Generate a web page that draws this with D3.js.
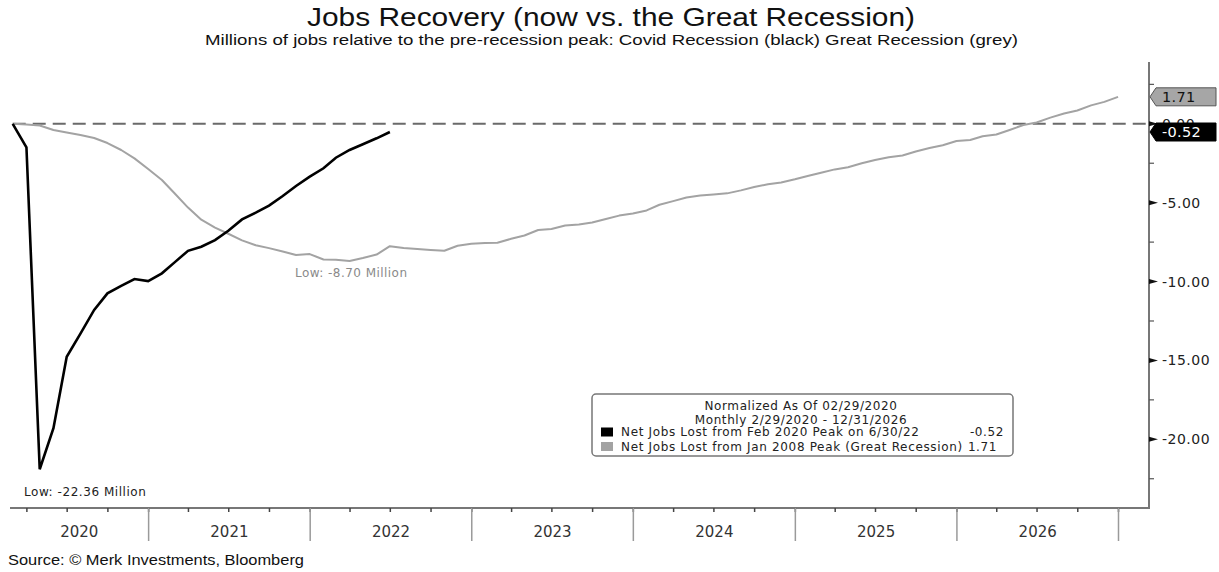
<!DOCTYPE html>
<html lang="en">
<head>
  <meta charset="UTF-8">
  <title>Jobs Recovery (now vs. the Great Recession)</title>
  <script src="https://d3js.org/d3.v7.min.js"></script>
  <style>
    html, body { margin: 0; padding: 0; background: #fff; }
    svg { display: block; }
    .title { font-family: "Liberation Sans", Arial, sans-serif; fill: #111; }
    .mono { font-family: "DejaVu Sans", Verdana, sans-serif; }
  </style>
</head>
<body>
  <div id="chart"></div>

  <script>
    // data: millions of jobs vs. pre-recession peak, monthly (month ends from 2/29/2020)
    const covidJobs = [0, -1.49, -21.9, -19.3, -14.77, -13.3, -11.8, -10.75, -10.27, -9.84,
      -9.97, -9.48, -8.8, -8.05, -7.79, -7.37, -6.78, -6.06, -5.63, -5.19,
      -4.58, -3.94, -3.35, -2.82, -2.15, -1.66, -1.30, -0.92, -0.52];

    const greatRecessionJobs = [0, -0.05, -0.11, -0.39, -0.55, -0.71, -0.90, -1.22, -1.66, -2.19,
      -2.87, -3.56, -4.39, -5.31, -6.08, -6.58, -6.97, -7.39, -7.70, -7.88,
      -8.10, -8.32, -8.26, -8.60, -8.62, -8.70, -8.51, -8.29, -7.76, -7.88,
      -7.94, -8.00, -8.05, -7.73, -7.61, -7.56, -7.54, -7.29, -7.08, -6.73,
      -6.67, -6.45, -6.38, -6.26, -6.04, -5.82, -5.69, -5.49, -5.13, -4.90,
      -4.67, -4.55, -4.48, -4.41, -4.22, -4.01, -3.83, -3.72, -3.52, -3.29,
      -3.10, -2.89, -2.75, -2.50, -2.30, -2.12, -2.01, -1.76, -1.54, -1.36,
      -1.09, -1.03, -0.79, -0.68, -0.39, -0.08, 0.08, 0.39, 0.65, 0.84,
      1.17, 1.39, 1.71];

    const yearLabels = ["2020", "2021", "2022", "2023", "2024", "2025", "2026"];
    const yMajorTicks = [0, -5, -10, -15, -20];
    const yMinorTicks = [2.5, -2.5, -7.5, -12.5, -17.5, -22.5];
    const legendLines = ["Normalized As Of 02/29/2020", "Monthly 2/29/2020 - 12/31/2026"];
    const legendSeries = [
      { name: "Net Jobs Lost from Feb 2020 Peak on 6/30/22", value: "-0.52", color: "#000" },
      { name: "Net Jobs Lost from Jan 2008 Peak (Great Recession)", value: "1.71", color: "#a3a3a3" }
    ];

    // month-end dates starting Feb 2020
    const monthEnd = i => d3.timeDay.offset(d3.timeMonth.offset(new Date(2020, 2, 1), i), -1);

    const width = 1219, height = 572;
    const axisX = 1149, axisTop = 62, axisBottom = 508, plotLeft = 10;

    const svg = d3.select("#chart").append("svg")
      .attr("width", width)
      .attr("height", height);

    const x = d3.scaleTime()
      .domain([new Date(2020, 0, 1), new Date(2027, 0, 1)])
      .range([-13.4, 1118.5]);

    const y = d3.scaleLinear()
      .domain([-20, 0])
      .range([439.3, 123.8]);

    // titles (the original is a little wider than the font, so stretch to fit)
    svg.append("text").attr("class", "title")
      .attr("x", 307).attr("y", 26)
      .attr("font-size", 26)
      .attr("textLength", 608)
      .attr("lengthAdjust", "spacingAndGlyphs")
      .text("Jobs Recovery (now vs. the Great Recession)");

    svg.append("text").attr("class", "title")
      .attr("x", 205).attr("y", 45)
      .attr("font-size", 15.5)
      .attr("textLength", 813)
      .attr("lengthAdjust", "spacingAndGlyphs")
      .text("Millions of jobs relative to the pre-recession peak: Covid Recession (black) Great Recession (grey)");

    // zero line
    svg.append("line")
      .attr("x1", x(monthEnd(0))).attr("x2", axisX)
      .attr("y1", y(0)).attr("y2", y(0))
      .attr("stroke", "#6a6a6a")
      .attr("stroke-width", 2)
      .attr("stroke-dasharray", "13,7");

    // lines
    const line = d3.line()
      .x((d, i) => x(monthEnd(i)))
      .y(d => y(d));

    svg.append("path")
      .attr("fill", "none")
      .attr("stroke", "#a3a3a3")
      .attr("stroke-width", 2)
      .attr("stroke-linejoin", "round")
      .attr("d", line(greatRecessionJobs));

    svg.append("path")
      .attr("fill", "none")
      .attr("stroke", "#000")
      .attr("stroke-width", 2.6)
      .attr("stroke-linejoin", "miter")
      .attr("d", line(covidJobs));

    // low annotations
    svg.append("text").attr("class", "mono")
      .attr("x", 24).attr("y", 496)
      .attr("font-size", 12).attr("letter-spacing", 0.55)
      .attr("fill", "#222")
      .text("Low: -22.36 Million");

    svg.append("text").attr("class", "mono")
      .attr("x", 295).attr("y", 277)
      .attr("font-size", 12).attr("letter-spacing", 0.45)
      .attr("fill", "#8a8a8a")
      .text("Low: -8.70 Million");

    // x axis
    const xAxis = svg.append("g");
    xAxis.append("line")
      .attr("x1", plotLeft).attr("x2", axisX)
      .attr("y1", axisBottom).attr("y2", axisBottom)
      .attr("stroke", "#777").attr("stroke-width", 2);

    const quarters = d3.timeMonth.every(3).range(new Date(2020, 3, 1), new Date(2027, 0, 2));
    xAxis.selectAll(".qtick")
      .data(quarters)
      .enter().append("line")
      .attr("x1", d => x(d)).attr("x2", d => x(d))
      .attr("y1", axisBottom).attr("y2", axisBottom + 4)
      .attr("stroke", "#444").attr("stroke-width", 1.5);

    const yearStarts = d3.timeYear.range(new Date(2021, 0, 1), new Date(2027, 0, 2));
    xAxis.selectAll(".ydiv")
      .data(yearStarts)
      .enter().append("line")
      .attr("x1", d => x(d)).attr("x2", d => x(d))
      .attr("y1", axisBottom).attr("y2", 541)
      .attr("stroke", "#9a9a9a").attr("stroke-width", 1.5);

    xAxis.selectAll(".ylab")
      .data(yearLabels)
      .enter().append("text")
      .attr("class", "mono")
      .attr("x", d => {
        const a = Math.max(plotLeft, x(new Date(+d, 0, 1)));
        const b = x(new Date(+d + 1, 0, 1));
        return (a + b) / 2;
      })
      .attr("y", 537)
      .attr("text-anchor", "middle")
      .attr("font-size", 15)
      .attr("fill", "#333")
      .text(d => d);

    // y axis
    const yAxis = svg.append("g");
    yAxis.append("line")
      .attr("x1", axisX).attr("x2", axisX)
      .attr("y1", axisTop).attr("y2", axisBottom + 1)
      .attr("stroke", "#777").attr("stroke-width", 2);

    yAxis.selectAll(".minor")
      .data(yMinorTicks)
      .enter().append("line")
      .attr("x1", axisX).attr("x2", axisX + 5)
      .attr("y1", d => y(d)).attr("y2", d => y(d))
      .attr("stroke", "#555").attr("stroke-width", 1.2);

    yAxis.selectAll(".major")
      .data(yMajorTicks)
      .enter().append("path")
      .attr("d", d => `M${axisX},${y(d) - 2.5}L${axisX + 9},${y(d)}L${axisX},${y(d) + 2.5}Z`)
      .attr("fill", "#111");

    yAxis.selectAll(".ylabel")
      .data(yMajorTicks)
      .enter().append("text")
      .attr("class", "mono")
      .attr("x", axisX + 13)
      .attr("y", d => y(d))
      .attr("dy", "0.36em")
      .attr("font-size", 14)
      .attr("letter-spacing", 0.5)
      .attr("fill", "#222")
      .text(d => d.toFixed(2));

    // last-value badges
    const badges = [
      { value: greatRecessionJobs[greatRecessionJobs.length - 1], fill: "#a6a6a6", text: "#111", stroke: "#555" },
      { value: covidJobs[covidJobs.length - 1], fill: "#000", text: "#fff", stroke: "#000" }
    ];
    badges.forEach(b => {
      const cy = y(b.value);
      svg.append("path")
        .attr("d", `M${axisX + 1},${cy}L${axisX + 7},${cy - 9}L1216,${cy - 9}L1216,${cy + 9}L${axisX + 7},${cy + 9}Z`)
        .attr("fill", b.fill)
        .attr("stroke", b.stroke)
        .attr("stroke-width", 1);
      svg.append("text").attr("class", "mono")
        .attr("x", axisX + 13).attr("y", cy)
        .attr("dy", "0.36em")
        .attr("font-size", 14.5)
        .attr("letter-spacing", 0.3)
        .attr("fill", b.text)
        .text(b.value.toFixed(2));
    });

    // legend
    const legend = svg.append("g");
    legend.append("rect")
      .attr("x", 592).attr("y", 394)
      .attr("width", 421).attr("height", 62)
      .attr("rx", 4)
      .attr("fill", "#fff")
      .attr("stroke", "#777").attr("stroke-width", 1.5);

    legend.selectAll(".lhead")
      .data(legendLines)
      .enter().append("text")
      .attr("class", "mono")
      .attr("x", 801)
      .attr("y", (d, i) => 410 + i * 14)
      .attr("text-anchor", "middle")
      .attr("font-size", 12)
      .attr("letter-spacing", 0.6)
      .attr("fill", "#222")
      .text(d => d);

    const rows = legend.selectAll(".lrow")
      .data(legendSeries)
      .enter().append("g")
      .attr("transform", (d, i) => `translate(0, ${432 + i * 14.5})`);

    rows.append("rect")
      .attr("x", 601).attr("y", -4.5)
      .attr("width", 12).attr("height", 9)
      .attr("fill", d => d.color);

    rows.append("text")
      .attr("class", "mono")
      .attr("x", 621).attr("dy", "0.36em")
      .attr("font-size", 12)
      .attr("letter-spacing", 0.65)
      .attr("fill", "#222")
      .text(d => d.name);

    rows.append("text")
      .attr("class", "mono")
      .attr("x", (d, i) => i === 0 ? 1004 : 997)
      .attr("dy", "0.36em")
      .attr("text-anchor", "end")
      .attr("font-size", 12)
      .attr("letter-spacing", 0.6)
      .attr("fill", "#222")
      .text(d => d.value);

    // source
    svg.append("text").attr("class", "title")
      .attr("x", 8).attr("y", 565)
      .attr("font-size", 15.5)
      .attr("textLength", 296)
      .attr("lengthAdjust", "spacingAndGlyphs")
      .attr("fill", "#333")
      .text("Source: \u00a9 Merk Investments, Bloomberg");
  </script>
</body>
</html>
